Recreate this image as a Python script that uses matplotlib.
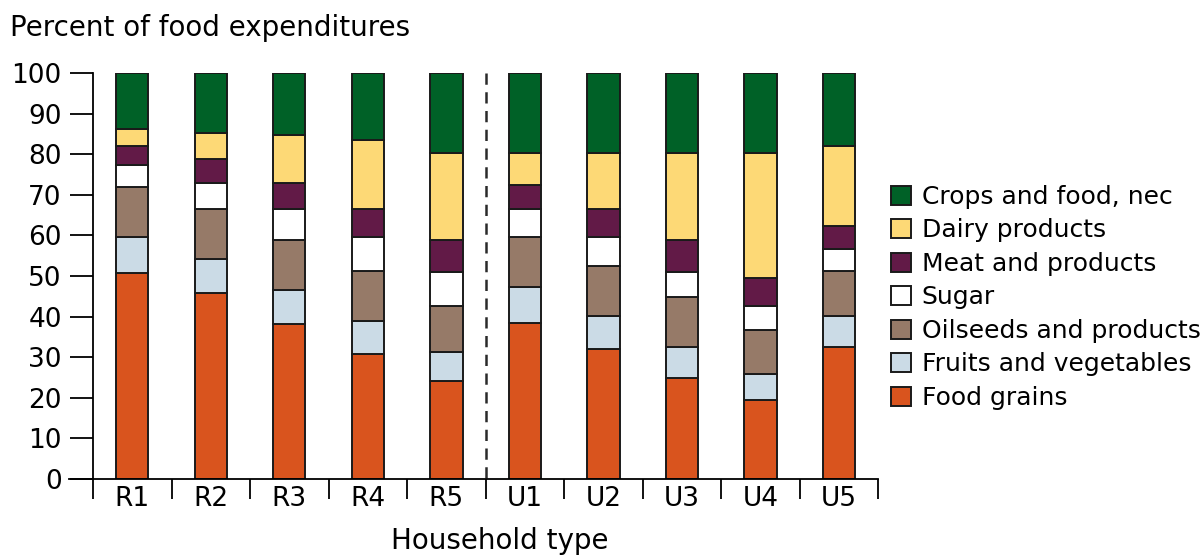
import matplotlib
matplotlib.use("Agg")
import matplotlib.pyplot as plt
import numpy as np

plt.rcParams['font.family'] = ['DejaVu Sans']

households = ['R1', 'R2', 'R3', 'R4', 'R5', 'U1', 'U2', 'U3', 'U4', 'U5']

tops_grains = [50.8, 45.7, 38.1, 30.8, 24.1, 38.5, 32.1, 24.9, 19.4, 32.6]
tops_fruits = [59.6, 54.1, 46.5, 38.9, 31.3, 47.3, 40.1, 32.6, 25.8, 40.1]
tops_oil = [72.0, 66.4, 58.8, 51.3, 42.7, 59.6, 52.4, 44.9, 36.8, 51.2]
tops_sugar = [77.3, 72.8, 66.4, 59.6, 50.9, 66.4, 59.6, 51.0, 42.7, 56.7]
tops_meat = [82.1, 78.8, 72.8, 66.4, 58.8, 72.4, 66.5, 58.8, 49.5, 62.3]
tops_dairy = [86.3, 85.1, 84.7, 83.4, 80.3, 80.4, 80.4, 80.4, 80.4, 82.1]
tops_crops = [100] * 10

categories = ['Food grains', 'Fruits and vegetables', 'Oilseeds and products',
              'Sugar', 'Meat and products', 'Dairy products', 'Crops and food, nec']
colors = ['#d9541e', '#cbdbe6', '#967a68', '#ffffff', '#621a47', '#fdd976', '#006127']

tops = np.array([tops_grains, tops_fruits, tops_oil, tops_sugar,
                 tops_meat, tops_dairy, tops_crops])
shares = np.diff(np.vstack([np.zeros(10), tops]), axis=0)

fig = plt.figure(figsize=(12.02, 5.55), dpi=100)
ax = fig.add_axes([0.0774, 0.137, 0.6533, 0.7315])

x = np.arange(len(households))
bottom = np.zeros(len(households))
handles = []
for name, col, vals in zip(categories, colors, shares):
    h = ax.bar(x, vals, 0.41, bottom=bottom, color=col, edgecolor='#1a1a1a',
               linewidth=1.4, label=name)
    handles.append(h)
    bottom += vals

# rural / urban separator, dashes start at the top
ax.plot([4.5, 4.5], [100, 0], color='#2a2a2a', lw=1.8, ls=(0, (4.5, 3)))

ax.set_xlim(-0.5, 9.5)
ax.set_ylim(0, 100)
ax.set_yticks(range(0, 101, 10))
ax.set_xticks(x)
ax.set_xticklabels(households)
ax.set_xticks(np.arange(-0.5, 10, 1), minor=True)
ax.tick_params(axis='x', which='major', length=0, pad=5, labelsize=19)
ax.tick_params(axis='x', which='minor', length=14.4, width=1.3, direction='out')
ax.tick_params(axis='y', length=16.5, width=1.3, pad=6, labelsize=19)

for s in ['top', 'right']:
    ax.spines[s].set_visible(False)
for s in ['left', 'bottom']:
    ax.spines[s].set_linewidth(1.3)
ax.spines['bottom'].set_bounds(-0.8, 9.5)

fig.text(500 / 1202, 1 - 541 / 555, 'Household type', fontsize=20, ha='center', va='center')
fig.text(0.008, 1 - 28 / 555, 'Percent of food expenditures', fontsize=20, va='center', ha='left')

leg = fig.legend(handles[::-1], categories[::-1], loc='upper left',
                 bbox_to_anchor=(0.733, 0.685), frameon=False, fontsize=18,
                 handlelength=0.78, handleheight=0.78, handletextpad=0.45,
                 labelspacing=0.38, borderaxespad=0)

fig.savefig('out.png', dpi=100)
